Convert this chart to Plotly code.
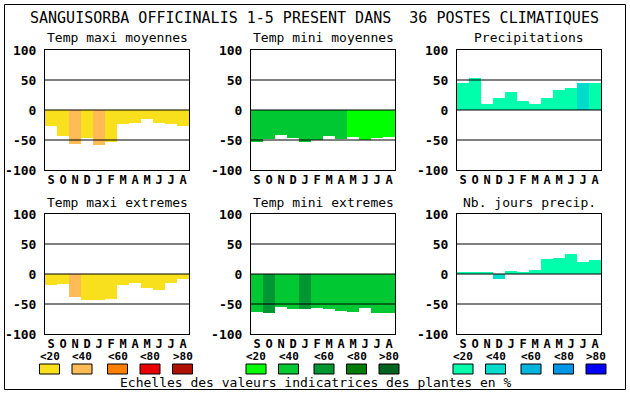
import plotly.graph_objects as go

W, H = 630, 394

title_text = "SANGUISORBA OFFICINALIS 1-5 PRESENT DANS  36 POSTES CLIMATIQUES"
months = ["S", "O", "N", "D", "J", "F", "M", "A", "M", "J", "J", "A"]
y_ticks = [-100, -50, 0, 50, 100]

panel_titles = ["Temp maxi moyennes", "Temp mini moyennes", "Precipitations",
                "Temp maxi extremes", "Temp mini extremes", "Nb. jours precip."]

# values per month
maxi_moy = [-26, -44, -56, -46, -58, -54, -23, -21, -15, -21, -24, -26]
mini_moy = [-53, -48, -42, -47, -53, -50, -43, -48, -45, -50, -47, -45]
precip = [45, 53, 10, 20, 30, 15, 10, 20, 33, 37, 45, 45]
maxi_ext = [-18, -17, -38, -43, -43, -42, -18, -15, -23, -27, -15, -8]
mini_ext = [-63, -65, -55, -58, -58, -57, -58, -62, -63, -57, -65, -65]
nb_jours = [3, 2, 2, -8, 5, 3, 7, 25, 27, 33, 20, 23]

# colour class (0: <20, 1: <40, 2: <60, 3: <80, 4: >80)
maxi_moy_cls = [0, 0, 1, 0, 1, 0, 0, 0, 0, 0, 0, 0]
mini_moy_cls = [1, 1, 1, 1, 1, 1, 1, 1, 0, 0, 0, 0]
precip_cls = [0, 0, 0, 0, 0, 0, 0, 0, 0, 0, 1, 0]
maxi_ext_cls = [0, 0, 1, 0, 0, 0, 0, 0, 0, 0, 0, 0]
mini_ext_cls = [1, 2, 1, 1, 2, 1, 1, 1, 1, 1, 1, 1]
nb_jours_cls = [0, 0, 0, 1, 0, 0, 0, 0, 0, 0, 0, 0]

scale_labels = ["<20", "<40", "<60", "<80", ">80"]
pal_temp_max = ["#f8e11c", "#ffbb55", "#ff8000", "#e80000", "#b01000"]
pal_temp_min = ["#00ff00", "#00c832", "#009632", "#007d00", "#006420"]
pal_precip = ["#00ffaa", "#00dccc", "#00b4dc", "#0096e6", "#0000ff"]
caption = "Echelles des valeurs indicatrices des plantes en %"

series = [(maxi_moy, maxi_moy_cls, pal_temp_max),
          (mini_moy, mini_moy_cls, pal_temp_min),
          (precip, precip_cls, pal_precip),
          (maxi_ext, maxi_ext_cls, pal_temp_max),
          (mini_ext, mini_ext_cls, pal_temp_min),
          (nb_jours, nb_jours_cls, pal_precip)]

# panel pixel boxes
col_x = [(45, 189), (251, 395), (457, 601)]
row_y = [(50, 170), (214, 334)]

MONO = "DejaVu Sans Mono"
fig = go.Figure()
shapes = []
annotations = []

for i, (vals, cls, pal) in enumerate(series):
    r, c = divmod(i, 3)
    n = i + 1
    xa = "x" if n == 1 else f"x{n}"
    ya = "y" if n == 1 else f"y{n}"
    fig.add_trace(go.Bar(
        x=list(range(12)), y=vals,
        marker=dict(color=[pal[k] for k in cls], line=dict(width=0)),
        xaxis=xa, yaxis=ya, showlegend=False, hoverinfo="skip"))
    x0, x1 = col_x[c]
    y0, y1 = row_y[r]
    xd = [x0 / W, x1 / W]
    yd = [1 - y1 / H, 1 - y0 / H]
    xkey = "xaxis" if n == 1 else f"xaxis{n}"
    ykey = "yaxis" if n == 1 else f"yaxis{n}"
    fig.layout[xkey] = dict(
        domain=xd, range=[-0.5, 11.5], anchor=ya, automargin=False,
        tickvals=list(range(12)), ticktext=months,
        tickfont=dict(family=MONO, size=12, color="black", weight="bold"),
        ticks="", ticklen=0, ticklabelstandoff=-1,
        showgrid=False, zeroline=False,
        showline=True, linecolor="black", linewidth=1, mirror=True,
        fixedrange=True)
    fig.layout[ykey] = dict(
        domain=yd, range=[-100, 100], anchor=xa, automargin=False,
        tickvals=y_ticks, ticktext=[str(v) for v in y_ticks],
        tickfont=dict(family=MONO, size=13, color="black", weight="bold"),
        ticks="", ticklabelstandoff=5, showgrid=False, zeroline=False,
        showline=True, linecolor="black", linewidth=1, mirror=True,
        fixedrange=True)
    for lv in (50, 0, -50):
        shapes.append(dict(type="line", xref=f"{xa} domain", yref=ya,
                           x0=0, x1=1, y0=lv, y1=lv, layer="above",
                           line=dict(color="black", width=1)))
    annotations.append(dict(
        text=panel_titles[i], x=(x0 + x1) / 2 / W, y=1 - (y0 - 12) / H,
        xref="paper", yref="paper", showarrow=False, xanchor="center",
        yanchor="middle", font=dict(family=MONO, size=13, color="black")))

# main title
annotations.append(dict(text=title_text, x=314 / W, y=1 - 18 / H,
                        xref="paper", yref="paper", showarrow=False,
                        xanchor="center", yanchor="middle",
                        font=dict(family=MONO, size=15, color="black")))

# legend scales
group_starts = [39.5, 246, 453]
box_offsets = [0, 32.5, 68, 100.5, 133]
for g, pal in enumerate([pal_temp_max, pal_temp_min, pal_precip]):
    for k in range(5):
        bx0 = group_starts[g] + box_offsets[k]
        bx1 = bx0 + 20
        shapes.append(dict(type="rect", xref="paper", yref="paper",
                           x0=bx0 / W, x1=bx1 / W, y0=1 - 374 / H, y1=1 - 364 / H,
                           fillcolor=pal[k], line=dict(color="black", width=1)))
        annotations.append(dict(text=scale_labels[k], x=(bx0 + bx1) / 2 / W,
                                y=1 - 356 / H, xref="paper", yref="paper",
                                showarrow=False, xanchor="center", yanchor="middle",
                                font=dict(family=MONO, size=11, color="black",
                                          weight="bold")))

annotations.append(dict(text=caption, x=316 / W, y=1 - 382 / H,
                        xref="paper", yref="paper", showarrow=False,
                        xanchor="center", yanchor="middle",
                        font=dict(family=MONO, size=13, color="black")))

# outer frame
shapes.append(dict(type="rect", xref="paper", yref="paper",
                   x0=4.5 / W, x1=625.5 / W, y0=1 - 389.5 / H, y1=1 - 4.5 / H,
                   line=dict(color="black", width=1), fillcolor="rgba(0,0,0,0)"))

fig.update_layout(width=W, height=H, margin=dict(l=0, r=0, t=0, b=0, pad=0),
                  paper_bgcolor="white", plot_bgcolor="white",
                  bargap=0, showlegend=False, template="none",
                  shapes=shapes, annotations=annotations)

post = ("document.body.style.margin='0';document.body.style.padding='0';"
        "var gd=document.getElementById('{plot_id}');"
        "gd.style.position='absolute';gd.style.left='0px';gd.style.top='0px';")

fig.write_html("out.html", config={"displayModeBar": False}, post_script=post)
